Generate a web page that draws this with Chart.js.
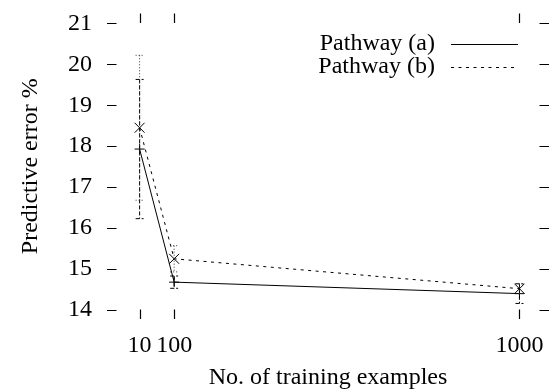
<!DOCTYPE html>
<html>
<head>
<meta charset="utf-8">
<script src="https://cdn.jsdelivr.net/npm/chart.js@4"></script>
<style>
  html, body { margin: 0; padding: 0; background: #fff; }
  #wrap { width: 557px; height: 392px; }
</style>
</head>
<body>
<div id="wrap"><canvas id="chart" width="557" height="392"></canvas></div>
<script>
const xValues = [10, 100, 1000];
const xTicks = [10, 100, 1000];
const yTicks = [14, 15, 16, 17, 18, 19, 20, 21];

const seriesLabels = ['Pathway (a)', 'Pathway (b)'];
const pathwayA = [17.93, 14.68, 14.40];
const pathwayAErr = [1.70, 0.15, 0.24];
const pathwayB = [18.45, 15.25, 14.52];
const pathwayBErr = [1.77, 0.32, 0.12];

const FONT = 'Liberation Serif, Times New Roman, serif';
const FONT_SIZE = 24;
const TICK_LEN = 9.5;

const errorSets = [
  { values: pathwayA, errs: pathwayAErr, dash: [4, 2], color: '#000' },
  { values: pathwayB, errs: pathwayBErr, dash: [1, 2], color: '#333' },
];

// gnuplot style: ticks drawn inward on all four sides, no border
const innerTicks = {
  id: 'innerTicks',
  afterDraw(chart) {
    const { ctx, chartArea: a, scales } = chart;
    ctx.save();
    ctx.strokeStyle = '#000';
    ctx.lineWidth = 1.2;
    ctx.beginPath();
    yTicks.forEach(v => {
      const y = Math.round(scales.y.getPixelForValue(v)) + 0.5;
      ctx.moveTo(a.left, y); ctx.lineTo(a.left + TICK_LEN, y);
      ctx.moveTo(a.right, y); ctx.lineTo(a.right - TICK_LEN, y);
    });
    xTicks.forEach(v => {
      const x = Math.round(scales.x.getPixelForValue(v)) + 0.5;
      ctx.moveTo(x, a.bottom); ctx.lineTo(x, a.bottom - TICK_LEN);
      ctx.moveTo(x, a.top); ctx.lineTo(x, a.top + TICK_LEN);
    });
    ctx.stroke();
    ctx.restore();
  },
};

const errorBars = {
  id: 'errorBars',
  afterDatasetsDraw(chart) {
    const { ctx, scales } = chart;
    ctx.save();
    ctx.lineWidth = 1;
    errorSets.forEach(s => {
      ctx.strokeStyle = s.color;
      xValues.forEach((xv, i) => {
        const x = scales.x.getPixelForValue(xv);
        const yTop = scales.y.getPixelForValue(s.values[i] + s.errs[i]);
        const yBot = scales.y.getPixelForValue(s.values[i] - s.errs[i]);
        ctx.setLineDash(s.dash);
        ctx.beginPath();
        ctx.moveTo(x, yTop); ctx.lineTo(x, yBot);
        ctx.moveTo(x - 4, yTop); ctx.lineTo(x + 4, yTop);
        ctx.moveTo(x - 4, yBot); ctx.lineTo(x + 4, yBot);
        ctx.stroke();
      });
    });
    ctx.restore();
  },
};

const sideLegend = {
  id: 'sideLegend',
  afterDraw(chart) {
    const { ctx } = chart;
    ctx.save();
    ctx.font = FONT_SIZE + 'px ' + FONT;
    ctx.fillStyle = '#000';
    ctx.textAlign = 'right';
    ctx.textBaseline = 'middle';
    chart.data.datasets.forEach((ds, i) => {
      const y = 44 + i * 23;
      ctx.fillText(ds.label, 435, y);
      ctx.strokeStyle = '#000';
      ctx.lineWidth = 1;
      ctx.setLineDash(ds.borderDash || []);
      ctx.beginPath();
      ctx.moveTo(451, y + 0.5); ctx.lineTo(518, y + 0.5);
      ctx.stroke();
    });
    ctx.restore();
  },
};

new Chart(document.getElementById('chart'), {
  type: 'line',
  data: {
    datasets: [
      {
        label: seriesLabels[0],
        data: xValues.map((x, i) => ({ x, y: pathwayA[i] })),
        borderColor: '#000',
        borderWidth: 1,
        pointStyle: 'cross',
        pointRadius: 5,
        pointBorderColor: '#000',
        pointBorderWidth: 1,
        tension: 0,
      },
      {
        label: seriesLabels[1],
        data: xValues.map((x, i) => ({ x, y: pathwayB[i] })),
        borderColor: '#000',
        borderWidth: 1,
        borderDash: [3, 4.5],
        pointStyle: 'crossRot',
        pointRadius: 7,
        pointBorderColor: '#000',
        pointBorderWidth: 1,
        tension: 0,
      },
    ],
  },
  options: {
    responsive: false,
    animation: false,
    layout: { padding: { top: 13.5, right: 0, left: 0, bottom: 0 } },
    scales: {
      x: {
        type: 'linear',
        min: -75,
        max: 1077,
        afterBuildTicks: (scale) => { scale.ticks = xTicks.map(v => ({ value: v })); },
        afterFit: (scale) => {
          scale.height = 73;
          scale.paddingLeft = 0; scale.paddingRight = 0;
        },
        grid: { display: false, drawTicks: false },
        border: { display: false },
        ticks: {
          color: '#000',
          font: { family: FONT, size: FONT_SIZE },
          padding: 12,
          maxRotation: 0,
          autoSkip: false,
          callback: (v) => String(v),
        },
        title: {
          display: true,
          text: 'No. of training examples',
          color: '#000',
          font: { family: FONT, size: FONT_SIZE, lineHeight: 1 },
          padding: { top: 0, bottom: 2.5 },
        },
      },
      y: {
        min: 13.78,
        max: 21.24,
        afterBuildTicks: (scale) => { scale.ticks = yTicks.map(v => ({ value: v })); },
        afterFit: (scale) => {
          scale.width = 107;
          scale.paddingTop = 0; scale.paddingBottom = 0;
        },
        grid: { display: false, drawTicks: false },
        border: { display: false },
        ticks: { color: '#000', font: { family: FONT, size: FONT_SIZE }, padding: 15 },
        title: {
          display: true,
          text: 'Predictive error %',
          color: '#000',
          font: { family: FONT, size: FONT_SIZE, lineHeight: 1 },
          padding: { top: 19, bottom: 0 },
        },
      },
    },
    plugins: {
      legend: { display: false },
      tooltip: { enabled: false },
    },
  },
  plugins: [innerTicks, errorBars, sideLegend],
});
</script>
</body>
</html>
